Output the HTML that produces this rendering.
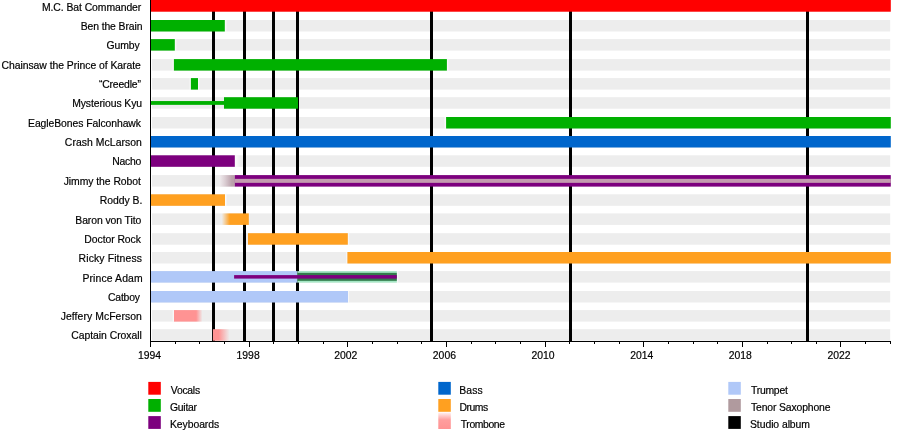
<!DOCTYPE html>
<html><head><meta charset="utf-8"><style>
html,body{margin:0;padding:0;background:#fff;}
svg{display:block;will-change:transform;}
text{font-family:"Liberation Sans", sans-serif;font-size:10.4px;fill:#000;stroke:#000;stroke-width:0.18px;}
</style></head><body>
<svg width="900" height="440" viewBox="0 0 900 440">
<defs>
<linearGradient id="fadeR"><stop offset="0" stop-color="#ff9393"/><stop offset="0.78" stop-color="#ff9393"/><stop offset="1" stop-color="#ff9393" stop-opacity="0"/></linearGradient>
<linearGradient id="fadeR2"><stop offset="0" stop-color="#ff9393"/><stop offset="0.35" stop-color="#ff9393"/><stop offset="1" stop-color="#ff9393" stop-opacity="0"/></linearGradient>
<linearGradient id="fadeLo"><stop offset="0" stop-color="#ffa020" stop-opacity="0"/><stop offset="0.3" stop-color="#ffa020"/><stop offset="1" stop-color="#ffa020"/></linearGradient>
<linearGradient id="fadeLs"><stop offset="0" stop-color="#f0ecee"/><stop offset="0.35" stop-color="#dccfd4"/><stop offset="0.8" stop-color="#bba2ac"/><stop offset="1" stop-color="#b89ea8"/></linearGradient>
<linearGradient id="tromb" x1="0" y1="0" x2="0" y2="1"><stop offset="0" stop-color="#ff9393" stop-opacity="0.12"/><stop offset="0.45" stop-color="#ff9393" stop-opacity="0.9"/><stop offset="1" stop-color="#ff9393"/></linearGradient>
<linearGradient id="haloR"><stop offset="0" stop-color="#fff" stop-opacity="0.9"/><stop offset="1" stop-color="#fff" stop-opacity="0"/></linearGradient>
<linearGradient id="haloL"><stop offset="0" stop-color="#fff" stop-opacity="0"/><stop offset="1" stop-color="#fff" stop-opacity="0.9"/></linearGradient>
</defs>
<rect width="900" height="440" fill="#fff"/>
<rect x="152" y="0.0" width="738.2" height="11.5" fill="#ededed"/>
<rect x="152" y="20.0" width="738.2" height="11.5" fill="#ededed"/>
<rect x="152" y="39.1" width="738.2" height="11.5" fill="#ededed"/>
<rect x="152" y="59.1" width="738.2" height="11.5" fill="#ededed"/>
<rect x="152" y="78.1" width="738.2" height="11.5" fill="#ededed"/>
<rect x="152" y="97.2" width="738.2" height="11.5" fill="#ededed"/>
<rect x="152" y="117.0" width="738.2" height="11.5" fill="#ededed"/>
<rect x="152" y="136.0" width="738.2" height="11.5" fill="#ededed"/>
<rect x="152" y="155.3" width="738.2" height="11.5" fill="#ededed"/>
<rect x="152" y="175.1" width="738.2" height="11.5" fill="#ededed"/>
<rect x="152" y="194.3" width="738.2" height="11.5" fill="#ededed"/>
<rect x="152" y="213.4" width="738.2" height="11.5" fill="#ededed"/>
<rect x="152" y="233.2" width="738.2" height="11.5" fill="#ededed"/>
<rect x="152" y="252.0" width="738.2" height="11.5" fill="#ededed"/>
<rect x="152" y="271.1" width="738.2" height="11.5" fill="#ededed"/>
<rect x="152" y="291.0" width="738.2" height="11.5" fill="#ededed"/>
<rect x="152" y="310.1" width="738.2" height="11.5" fill="#ededed"/>
<rect x="152" y="329.2" width="738.2" height="11.5" fill="#ededed"/>
<rect x="224.80" y="20.0" width="2.5" height="11.5" fill="url(#haloR)"/>
<rect x="174.80" y="39.1" width="2.2" height="11.5" fill="url(#haloR)"/>
<rect x="171.90" y="59.1" width="2" height="11.5" fill="url(#haloL)"/>
<rect x="446.90" y="59.1" width="2.2" height="11.5" fill="url(#haloR)"/>
<rect x="188.90" y="78.1" width="2" height="11.5" fill="url(#haloL)"/>
<rect x="198.00" y="78.1" width="2" height="11.5" fill="url(#haloR)"/>
<rect x="443.60" y="117.0" width="2.5" height="11.5" fill="url(#haloL)"/>
<rect x="234.80" y="155.3" width="6" height="11.5" fill="url(#haloR)"/>
<rect x="225.00" y="194.3" width="2.5" height="11.5" fill="url(#haloR)"/>
<rect x="347.80" y="233.2" width="2" height="11.5" fill="url(#haloR)"/>
<rect x="345.40" y="252.0" width="2" height="11.5" fill="url(#haloL)"/>
<rect x="396.80" y="271.1" width="2" height="11.5" fill="url(#haloR)"/>
<rect x="348.00" y="291.0" width="1.6" height="11.5" fill="url(#haloR)"/>
<rect x="172.00" y="310.1" width="2" height="11.5" fill="url(#haloL)"/>
<rect x="212" y="0" width="3" height="341" fill="#000"/>
<rect x="243" y="0" width="3" height="341" fill="#000"/>
<rect x="272" y="0" width="3" height="341" fill="#000"/>
<rect x="296" y="0" width="3" height="341" fill="#000"/>
<rect x="430" y="0" width="3" height="341" fill="#000"/>
<rect x="569" y="0" width="3" height="341" fill="#000"/>
<rect x="806" y="0" width="3" height="341" fill="#000"/>
<rect x="150.7" y="0.00" width="740.10" height="11.7" fill="#ff0000"/>
<rect x="150.7" y="20.00" width="74.10" height="11.5" fill="#00b000"/>
<rect x="150.7" y="39.10" width="24.10" height="11.5" fill="#00b000"/>
<rect x="173.9" y="59.10" width="273.00" height="11.5" fill="#00b000"/>
<rect x="190.9" y="78.10" width="7.10" height="11.5" fill="#00b000"/>
<rect x="150.7" y="101.05" width="73.30" height="3.8" fill="#00b000"/>
<rect x="224.0" y="97.20" width="74.00" height="11.5" fill="#00b000"/>
<rect x="446.1" y="117.00" width="444.70" height="11.5" fill="#00b000"/>
<rect x="150.7" y="136.00" width="740.10" height="11.5" fill="#0066cc"/>
<rect x="150.7" y="155.30" width="84.10" height="11.5" fill="#7d007e"/>
<rect x="219.5" y="175.10" width="15.30" height="11.5" fill="url(#fadeLs)"/>
<rect x="234.8" y="175.10" width="656.00" height="11.5" fill="#7d007e"/>
<rect x="234.8" y="178.85" width="656.00" height="4.0" fill="#c49cb0"/>
<rect x="150.7" y="194.30" width="74.30" height="11.5" fill="#ffa020"/>
<rect x="221.8" y="213.40" width="27.00" height="11.5" fill="url(#fadeLo)"/>
<rect x="248.0" y="233.20" width="99.80" height="11.5" fill="#ffa020"/>
<rect x="347.4" y="252.00" width="543.40" height="11.5" fill="#ffa020"/>
<rect x="150.7" y="271.10" width="146.70" height="11.5" fill="#b0c8f8"/>
<rect x="297.4" y="271.10" width="99.40" height="11.5" fill="#a4e6c4"/>
<rect x="297.4" y="272.85" width="99.40" height="8.0" fill="#347c4c"/>
<rect x="234.1" y="275.10" width="162.70" height="3.5" fill="#7d007e"/>
<rect x="150.7" y="291.00" width="197.30" height="11.5" fill="#b0c8f8"/>
<rect x="174.0" y="310.10" width="28.40" height="11.5" fill="url(#fadeR)"/>
<rect x="212.9" y="329.20" width="16.60" height="11.5" fill="url(#fadeR2)"/>
<rect x="150" y="0" width="1" height="342" fill="#000"/>
<rect x="150" y="341" width="741" height="1" fill="#000"/>
<rect x="150" y="341" width="1" height="6" fill="#000"/>
<text x="149.50" y="358.7" text-anchor="middle">1994</text>
<rect x="175" y="341" width="1" height="3" fill="#000"/>
<rect x="199" y="341" width="1" height="3" fill="#000"/>
<rect x="224" y="341" width="1" height="3" fill="#000"/>
<rect x="249" y="341" width="1" height="6" fill="#000"/>
<text x="248.14" y="358.7" text-anchor="middle">1998</text>
<rect x="273" y="341" width="1" height="3" fill="#000"/>
<rect x="298" y="341" width="1" height="3" fill="#000"/>
<rect x="323" y="341" width="1" height="3" fill="#000"/>
<rect x="347" y="341" width="1" height="6" fill="#000"/>
<text x="345.78" y="358.7" text-anchor="middle">2002</text>
<rect x="372" y="341" width="1" height="3" fill="#000"/>
<rect x="397" y="341" width="1" height="3" fill="#000"/>
<rect x="421" y="341" width="1" height="3" fill="#000"/>
<rect x="446" y="341" width="1" height="6" fill="#000"/>
<text x="444.42" y="358.7" text-anchor="middle">2006</text>
<rect x="471" y="341" width="1" height="3" fill="#000"/>
<rect x="495" y="341" width="1" height="3" fill="#000"/>
<rect x="520" y="341" width="1" height="3" fill="#000"/>
<rect x="545" y="341" width="1" height="6" fill="#000"/>
<text x="543.06" y="358.7" text-anchor="middle">2010</text>
<rect x="569" y="341" width="1" height="3" fill="#000"/>
<rect x="594" y="341" width="1" height="3" fill="#000"/>
<rect x="619" y="341" width="1" height="3" fill="#000"/>
<rect x="643" y="341" width="1" height="6" fill="#000"/>
<text x="641.70" y="358.7" text-anchor="middle">2014</text>
<rect x="668" y="341" width="1" height="3" fill="#000"/>
<rect x="693" y="341" width="1" height="3" fill="#000"/>
<rect x="717" y="341" width="1" height="3" fill="#000"/>
<rect x="742" y="341" width="1" height="6" fill="#000"/>
<text x="740.34" y="358.7" text-anchor="middle">2018</text>
<rect x="767" y="341" width="1" height="3" fill="#000"/>
<rect x="791" y="341" width="1" height="3" fill="#000"/>
<rect x="816" y="341" width="1" height="3" fill="#000"/>
<rect x="840" y="341" width="1" height="6" fill="#000"/>
<text x="838.98" y="358.7" text-anchor="middle">2022</text>
<rect x="865" y="341" width="1" height="3" fill="#000"/>
<rect x="890" y="341" width="1" height="3" fill="#000"/>
<text x="141.30" y="11.10" text-anchor="end" textLength="99.38" lengthAdjust="spacing">M.C. Bat Commander</text>
<text x="142.50" y="29.80" text-anchor="end" textLength="61.87" lengthAdjust="spacing">Ben the Brain</text>
<text x="139.70" y="49.10" text-anchor="end" textLength="33.20" lengthAdjust="spacing">Gumby</text>
<text x="140.90" y="69.00" text-anchor="end" textLength="139.46" lengthAdjust="spacing">Chainsaw the Prince of Karate</text>
<text x="140.90" y="87.70" text-anchor="end" textLength="42.01" lengthAdjust="spacing">“Creedle”</text>
<text x="142.10" y="107.20" text-anchor="end" textLength="69.93" lengthAdjust="spacing">Mysterious Kyu</text>
<text x="141.00" y="126.80" text-anchor="end" textLength="112.97" lengthAdjust="spacing">EagleBones Falconhawk</text>
<text x="141.90" y="145.90" text-anchor="end" textLength="77.03" lengthAdjust="spacing">Crash McLarson</text>
<text x="141.30" y="165.00" text-anchor="end" textLength="29.05" lengthAdjust="spacing">Nacho</text>
<text x="140.90" y="184.60" text-anchor="end" textLength="77.17" lengthAdjust="spacing">Jimmy the Robot</text>
<text x="142.30" y="204.00" text-anchor="end" textLength="42.65" lengthAdjust="spacing">Roddy B.</text>
<text x="141.30" y="223.50" text-anchor="end" textLength="66.02" lengthAdjust="spacing">Baron von Tito</text>
<text x="140.90" y="242.60" text-anchor="end" textLength="56.57" lengthAdjust="spacing">Doctor Rock</text>
<text x="141.90" y="261.70" text-anchor="end" textLength="63.28" lengthAdjust="spacing">Ricky Fitness</text>
<text x="142.60" y="281.50" text-anchor="end" textLength="60.22" lengthAdjust="spacing">Prince Adam</text>
<text x="139.90" y="300.80" text-anchor="end" textLength="31.84" lengthAdjust="spacing">Catboy</text>
<text x="141.90" y="319.90" text-anchor="end" textLength="81.18" lengthAdjust="spacing">Jeffery McFerson</text>
<text x="141.80" y="339.40" text-anchor="end" textLength="70.55" lengthAdjust="spacing">Captain Croxall</text>
<rect x="148.3" y="381.90" width="12.5" height="12.8" fill="#ff0000"/>
<text x="170.80" y="393.80" textLength="29.32" lengthAdjust="spacing">Vocals</text>
<rect x="148.3" y="399.00" width="12.5" height="12.8" fill="#00b000"/>
<text x="170.00" y="410.90" textLength="27.00" lengthAdjust="spacing">Guitar</text>
<rect x="148.3" y="416.10" width="12.5" height="12.8" fill="#7d007e"/>
<text x="170.00" y="428.00" textLength="49.19" lengthAdjust="spacing">Keyboards</text>
<rect x="438.3" y="381.90" width="12.5" height="12.8" fill="#0066cc"/>
<text x="459.20" y="393.80" textLength="23.51" lengthAdjust="spacing">Bass</text>
<rect x="438.3" y="399.00" width="12.5" height="12.8" fill="#ffa020"/>
<text x="459.40" y="410.90" textLength="28.79" lengthAdjust="spacing">Drums</text>
<rect x="438.3" y="412.4" width="12.5" height="16.6" fill="url(#tromb)"/>
<text x="460.80" y="428.00" textLength="44.18" lengthAdjust="spacing">Trombone</text>
<rect x="728.3" y="381.90" width="12.5" height="12.8" fill="#b0c8f8"/>
<text x="751.00" y="393.80" textLength="36.81" lengthAdjust="spacing">Trumpet</text>
<rect x="728.3" y="399.00" width="12.5" height="12.8" fill="#b09a9e"/>
<text x="751.00" y="410.90" textLength="79.47" lengthAdjust="spacing">Tenor Saxophone</text>
<rect x="728.3" y="416.10" width="12.5" height="12.8" fill="#000"/>
<text x="750.00" y="428.00" textLength="59.96" lengthAdjust="spacing">Studio album</text>
</svg>
</body></html>
